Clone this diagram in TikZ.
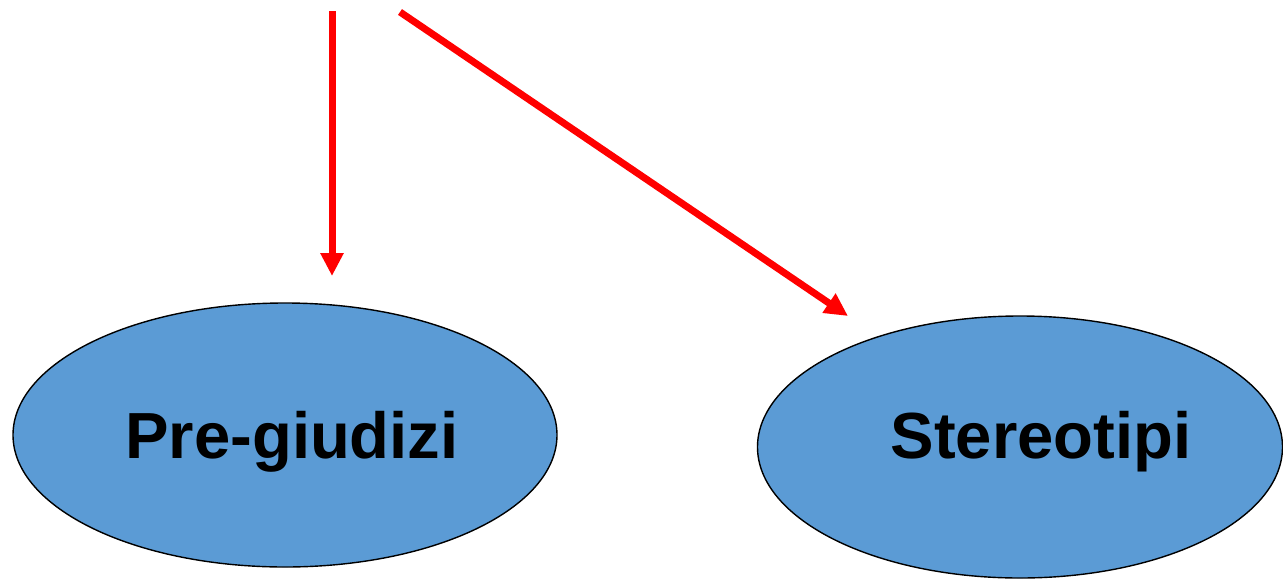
\documentclass[tikz,border=0pt]{standalone}
\usepackage{fontspec}
\setmainfont{Liberation Sans}
\usetikzlibrary{arrows.meta,shapes.geometric}
\definecolor{bubble}{HTML}{5B9BD5}
\definecolor{arrowred}{HTML}{FF0000}
\tikzset{
  bubble/.style={ellipse, draw=black, line width=1.4pt, fill=bubble, inner sep=0pt},
  label/.style={font=\bfseries\fontsize{65.2}{70}\selectfont, inner sep=0pt, anchor=base},
  redarrow/.style={draw=arrowred, line width=7pt,
    -{Triangle[length=23pt,width=22pt]}},
}
\begin{document}
\begin{tikzpicture}[x=1pt,y=-1pt]
  \useasboundingbox (0,0) rectangle (1283,579);
  % the two concept ellipses
  \node[bubble, minimum width=544pt, minimum height=264pt] (pre) at (285,435) {};
  \node[bubble, minimum width=525pt, minimum height=262pt] (ste) at (1020,447) {};
  \node[label] (pretext) at (292,458) {Pre-giudizi};
  \node[label] (stetext) at (1041,458) {Stereotipi};
  % arrows coming in from above
  \coordinate (s1) at (332,11);
  \coordinate (t1) at (332,276);
  \coordinate (s2) at (400,12);
  \coordinate (t2) at (848,316);
  \draw[redarrow] (s1) -- (t1);
  \draw[redarrow] (s2) -- (t2);
\end{tikzpicture}
\end{document}
